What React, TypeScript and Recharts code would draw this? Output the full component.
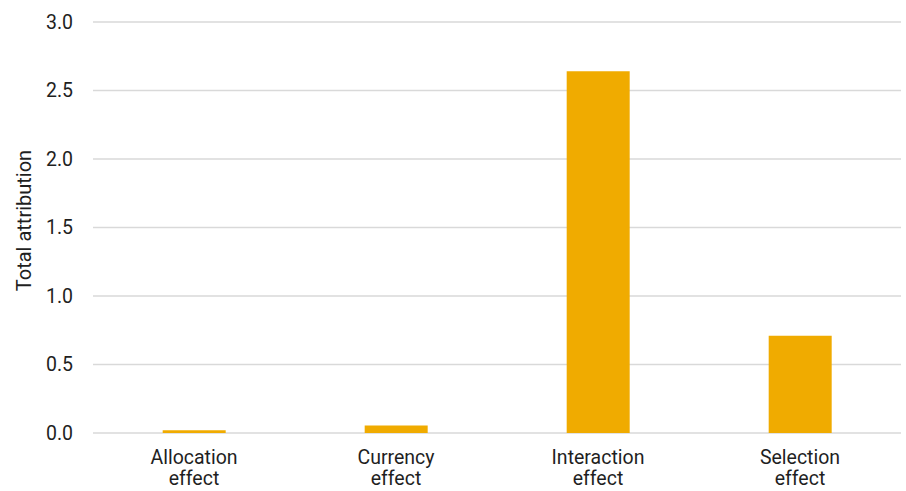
import { BarChart, Bar, XAxis, YAxis, CartesianGrid } from "recharts";

const categories = ["Allocation effect", "Currency effect", "Interaction effect", "Selection effect"];
const totals = [0.02, 0.055, 2.64, 0.71];
const yTicks = [0, 0.5, 1, 1.5, 2, 2.5, 3];

const data = categories.map((name, i) => ({ name, total: totals[i] }));

const FONT = "Roboto, sans-serif";
const TEXT = "#1f1f1f";

function CategoryTick({ x, y, payload }: any) {
  const words = String(payload.value).split(" ");
  return (
    <text x={x} y={y} textAnchor="middle" fontFamily={FONT} fontSize={19.5} fill={TEXT}>
      {words.map((w: string, i: number) => (
        <tspan key={i} x={x} dy={i === 0 ? 23 : 21}>
          {w}
        </tspan>
      ))}
    </text>
  );
}

function YLabel({ viewBox }: any) {
  const cx = 24;
  const cy = viewBox.y + viewBox.height / 2 - 7;
  return (
    <text
      x={cx}
      y={cy}
      transform={`rotate(-90 ${cx} ${cy})`}
      textAnchor="middle"
      dominantBaseline="central"
      fontFamily={FONT}
      fontSize={20}
      fill={TEXT}
    >
      Total attribution
    </text>
  );
}

export default function App() {
  return (
    <div style={{ position: "absolute", left: 0, top: 0, background: "#fff" }}>
      <BarChart
        width={906}
        height={491}
        data={data}
        margin={{ top: 22, right: 5, bottom: 0, left: 0 }}
        barCategoryGap="34.5%"
      >
        <CartesianGrid vertical={false} stroke="#d9d9d9" strokeWidth={1.5} />
        <XAxis
          dataKey="name"
          axisLine={false}
          tickLine={false}
          tick={<CategoryTick />}
          height={58}
          interval={0}
        />
        <YAxis
          domain={[0, 3]}
          ticks={yTicks}
          tickFormatter={(v) => v.toFixed(1)}
          axisLine={false}
          tickLine={false}
          width={93}
          tickMargin={14}
          tick={{ fontFamily: FONT, fontSize: 19.5, fill: TEXT }}
          label={<YLabel />}
        />
        <Bar dataKey="total" fill="#f0ab00" isAnimationActive={false} />
      </BarChart>
    </div>
  );
}
